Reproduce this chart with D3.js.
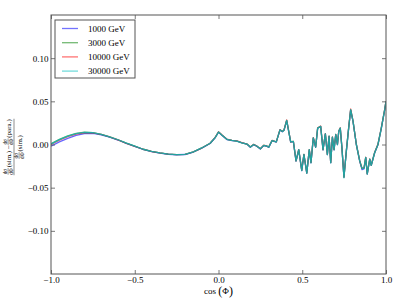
<!DOCTYPE html>
<html>
<head>
<meta charset="utf-8">
<script src="https://cdn.jsdelivr.net/npm/d3@7"></script>
<style>
  body { margin: 0; background: #fff; }
  text { font-family: "Liberation Serif", "DejaVu Serif", serif; fill: #000; }
</style>
</head>
<body>
<script>
(function() {
    "use strict";

    //cos(phi) sample points, shared by all series
    var cosPhi = [-1.0,-0.95,-0.9,-0.85,-0.8,-0.75,-0.7,-0.65,-0.6,-0.55,-0.5,-0.45,-0.4,-0.35,-0.3,-0.25,-0.2,-0.15,-0.1,-0.05,
        -0.02,0.0,0.02,0.05,0.08,0.11,0.14,0.17,
        0.19,0.21,0.23,0.25,0.27,0.29,0.30,0.32,0.345,
        0.367,0.381,0.391,0.407,0.431,0.447,0.463,0.479,0.497,0.510,
        0.527,0.542,0.552,0.566,0.580,0.592,0.610,0.624,0.638,0.650,
        0.660,0.670,0.680,0.690,0.700,0.710,0.718,0.727,0.737,0.749,
        0.763,0.777,0.789,0.803,0.823,0.843,0.857,0.869,0.879,0.888,
        0.903,0.912,0.932,0.952,0.972,0.992,1.0];

    var values1000 = [-0.002,0.003,0.007,0.0105,0.0125,0.0128,0.0112,0.0084,0.0052,0.0013,-0.0022,-0.0056,-0.0082,-0.0099,-0.0113,-0.0119,-0.0116,-0.0087,-0.0042,0.0012,
        0.0078,0.0142,0.0108,0.0058,0.0046,0.0038,0.0019,0.0003,
        -0.0032,-0.0002,-0.0022,-0.0052,-0.0012,-0.0022,-0.0033,0.0044,0.0028,
        0.0168,0.0148,0.0164,0.0276,0.0028,0.0033,-0.0192,-0.0062,-0.0302,-0.0118,
        -0.0332,-0.0062,-0.0212,0.0075,-0.0032,0.0188,0.0208,-0.0062,0.0122,-0.0118,
        0.0094,-0.0212,0.0083,-0.0062,0.0114,-0.0002,0.0152,0.0188,-0.0042,-0.0375,
        -0.0082,0.0188,0.0398,0.0268,-0.0002,-0.0192,-0.0292,-0.0282,-0.0152,-0.0342,
        -0.0172,-0.0242,-0.0098,-0.0002,0.0188,0.0398,0.0498];

    var values3000 = [0.001,0.006,0.010,0.0128,0.0142,0.0138,0.0118,0.0088,0.0055,0.0015,-0.002,-0.0055,-0.008,-0.0098,-0.0112,-0.0118,-0.0115,-0.0085,-0.004,0.0015,
        0.008,0.0145,0.011,0.006,0.0048,0.004,0.002,0.0005,
        -0.003,0.000,-0.002,-0.005,-0.001,-0.002,-0.003,0.0046,0.003,
        0.017,0.015,0.0166,0.028,0.003,0.0035,-0.019,-0.006,-0.030,-0.0116,
        -0.033,-0.006,-0.021,0.0077,-0.003,0.019,0.021,-0.006,0.0124,-0.0116,
        0.0096,-0.021,0.0085,-0.006,0.0116,0.000,0.0154,0.019,-0.004,-0.038,
        -0.008,0.019,0.0405,0.027,0.000,-0.019,-0.028,-0.027,-0.015,-0.034,
        -0.017,-0.024,-0.0096,0.000,0.019,0.040,0.050];

    var values10000 = [0.000,0.005,0.009,0.0120,0.0136,0.0135,0.0116,0.0087,0.0054,0.0014,-0.0021,-0.0055,-0.0081,-0.0098,-0.0112,-0.0118,-0.0115,-0.0086,-0.0041,0.0014,
        0.0082,0.0148,0.0112,0.0061,0.0049,0.0041,0.0021,0.0005,
        -0.0029,0.0002,-0.0019,-0.0049,-0.0008,-0.0019,-0.0029,0.0048,0.0031,
        0.0172,0.0152,0.0168,0.0284,0.0031,0.0036,-0.0189,-0.0059,-0.0298,-0.0114,
        -0.0328,-0.0059,-0.0208,0.0079,-0.0028,0.0194,0.0214,-0.0059,0.0126,-0.0114,
        0.0098,-0.0208,0.0087,-0.0058,0.0118,0.0002,0.0157,0.0193,-0.0038,-0.0378,
        -0.0078,0.0192,0.0411,0.0273,0.0002,-0.0188,-0.0278,-0.0268,-0.0148,-0.0338,
        -0.0168,-0.0238,-0.0094,0.0002,0.0192,0.0404,0.0502];

    var values30000 = [0.0005,0.0056,0.0096,0.0125,0.0140,0.0137,0.0118,0.0088,0.0055,0.0015,-0.002,-0.0055,-0.008,-0.0098,-0.0112,-0.0118,-0.0115,-0.0085,-0.004,0.0015,
        0.008,0.0145,0.011,0.006,0.0048,0.004,0.002,0.0005,
        -0.003,0.000,-0.002,-0.005,-0.001,-0.002,-0.003,0.0046,0.003,
        0.017,0.015,0.0166,0.0279,0.003,0.0035,-0.019,-0.006,-0.0301,-0.0116,
        -0.0331,-0.006,-0.021,0.0077,-0.003,0.019,0.021,-0.006,0.0124,-0.0116,
        0.0096,-0.021,0.0085,-0.006,0.0116,0.000,0.0154,0.019,-0.004,-0.0385,
        -0.008,0.019,0.0403,0.027,0.000,-0.019,-0.028,-0.027,-0.015,-0.034,
        -0.017,-0.024,-0.0096,0.000,0.019,0.040,0.050];

    var seriesLabels = ["1000 GeV", "3000 GeV", "10000 GeV", "30000 GeV"];
    var seriesColors = ["#0000ff", "#008000", "#ff0000", "#00bfbf"];
    var seriesAlpha = [0.6, 0.6, 0.6, 0.8];
    var seriesValues = [values1000, values3000, values10000, values30000];

    var xTicks = [-1.0, -0.5, 0.0, 0.5, 1.0];
    var yTicks = [-0.10, -0.05, 0.00, 0.05, 0.10];

    var WIDTH = 407, HEIGHT = 305;
    var margin = {top: 15, right: 21, bottom: 31, left: 51};
    var plotW = WIDTH - margin.left - margin.right;
    var plotH = HEIGHT - margin.top - margin.bottom;

    var svg = d3.select("body").append("svg")
        .attr("width", WIDTH)
        .attr("height", HEIGHT);

    var x = d3.scaleLinear().domain([-1, 1]).range([0, plotW]);
    var y = d3.scaleLinear().domain([-0.15, 0.15]).range([plotH, 0]);

    var g = svg.append("g").attr("transform", "translate(" + margin.left + "," + margin.top + ")");

    //clip curves to the axes box
    svg.append("defs").append("clipPath").attr("id", "plotclip")
        .append("rect").attr("width", plotW).attr("height", plotH);

    var line = d3.line()
        .x(function(d) { return x(d[0]); })
        .y(function(d) { return y(d[1]); });

    var curves = g.append("g").attr("clip-path", "url(#plotclip)");
    seriesValues.forEach(function(vals, i) {
        curves.append("path")
            .datum(cosPhi.map(function(c, j) { return [c, vals[j]]; }))
            .attr("fill", "none")
            .attr("stroke", seriesColors[i])
            .attr("stroke-opacity", seriesAlpha[i])
            .attr("stroke-width", 1.3)
            .attr("stroke-linejoin", "round")
            .attr("d", line);
    });

    //number format with a real minus sign
    function fmt(n) {
        return function(d) { return d3.format("." + n + "f")(d).replace("-", "\u2212"); };
    }

    //axes: ticks point inwards, mirrored on top and right
    var TICK = 4;
    var xAxisB = d3.axisBottom(x).tickValues(xTicks).tickSizeInner(-TICK).tickSizeOuter(0).tickPadding(2.5).tickFormat(fmt(1));
    var xAxisT = d3.axisTop(x).tickValues(xTicks).tickSizeInner(-TICK).tickSizeOuter(0).tickFormat("");
    var yAxisL = d3.axisLeft(y).tickValues(yTicks).tickSizeInner(-TICK).tickSizeOuter(0).tickPadding(2.5).tickFormat(fmt(2));
    var yAxisR = d3.axisRight(y).tickValues(yTicks).tickSizeInner(-TICK).tickSizeOuter(0).tickFormat("");

    [
        g.append("g").attr("transform", "translate(0," + plotH + ")").call(xAxisB),
        g.append("g").call(xAxisT),
        g.append("g").call(yAxisL),
        g.append("g").attr("transform", "translate(" + plotW + ",0)").call(yAxisR)
    ].forEach(function(a) {
        a.select(".domain").remove();
        a.selectAll(".tick line").attr("stroke", "#555").attr("stroke-width", 0.8);
        a.selectAll(".tick text").attr("font-family", "Liberation Serif, DejaVu Serif, serif").attr("font-size", 9).attr("fill", "#000");
    });

    //axes frame
    g.append("rect")
        .attr("x", 0).attr("y", 0)
        .attr("width", plotW).attr("height", plotH)
        .attr("fill", "none")
        .attr("stroke", "#555")
        .attr("stroke-width", 1);

    //legend
    var legend = g.append("g").attr("transform", "translate(4,5)");
    legend.append("rect")
        .attr("width", 80).attr("height", 58)
        .attr("fill", "#fff")
        .attr("stroke", "#555")
        .attr("stroke-width", 1);
    seriesLabels.forEach(function(lab, i) {
        var row = legend.append("g").attr("transform", "translate(0," + (8.5 + i * 14.2) + ")");
        row.append("line")
            .attr("x1", 7).attr("x2", 23)
            .attr("stroke", seriesColors[i])
            .attr("stroke-opacity", 0.55)
            .attr("stroke-width", 1.3);
        row.append("text")
            .attr("x", 33).attr("y", 3)
            .attr("font-size", 9)
            .text(lab);
    });

    //x label: cos (Phi) with tall parentheses
    var xl = svg.append("text")
        .attr("x", margin.left + plotW / 2)
        .attr("y", 294)
        .attr("text-anchor", "middle")
        .attr("font-size", 9);
    xl.append("tspan").text("cos ");
    xl.append("tspan").attr("font-size", 12).attr("dy", 1).text("(");
    xl.append("tspan").attr("dy", -1).text("\u03a6");
    xl.append("tspan").attr("font-size", 12).attr("dy", 1).text(")");

    //y label: stacked fraction, rotated
    var FS = 7, FF = 5.2;
    function layout(parent, pieces, baseY) {
        var grp = parent.append("g");
        var cx = 0;
        pieces.forEach(function(p) {
            if (p.frac) {
                var n = grp.append("text").attr("font-size", FF).attr("y", baseY - 3.4).text(p.frac[0]);
                var d = grp.append("text").attr("font-size", FF).attr("y", baseY + 2.4).text(p.frac[1]);
                var w = Math.max(n.node().getComputedTextLength(), d.node().getComputedTextLength());
                n.attr("x", cx + w / 2).attr("text-anchor", "middle");
                d.attr("x", cx + w / 2).attr("text-anchor", "middle");
                grp.append("line")
                    .attr("x1", cx).attr("x2", cx + w + 0.4)
                    .attr("y1", baseY - 2.4).attr("y2", baseY - 2.4)
                    .attr("stroke", "#000").attr("stroke-width", 0.4);
                cx += w + 1;
            } else {
                var t = grp.append("text").attr("font-size", FS).attr("x", cx).attr("y", baseY).text(p.text);
                cx += t.node().getComputedTextLength();
            }
        });
        grp.attr("transform", "translate(" + (-cx / 2) + ",0)");
        return cx;
    }
    var yl = svg.append("g").attr("transform", "translate(0,147) rotate(-90)");
    var w1 = layout(yl, [
        {frac: ["d\u03c3", "d\u03a6"]}, {text: "(sim.) \u2212 "},
        {frac: ["d\u03c3", "d\u03a6"]}, {text: "(para.)"}
    ], 10.5);
    layout(yl, [{frac: ["d\u03c3", "d\u03a6"]}, {text: "(sim.)"}], 21.5);
    yl.append("line")
        .attr("x1", -w1 / 2 - 0.5).attr("x2", w1 / 2 + 0.5)
        .attr("y1", 14).attr("y2", 14)
        .attr("stroke", "#000").attr("stroke-width", 0.45);
}());
</script>
</body>
</html>
